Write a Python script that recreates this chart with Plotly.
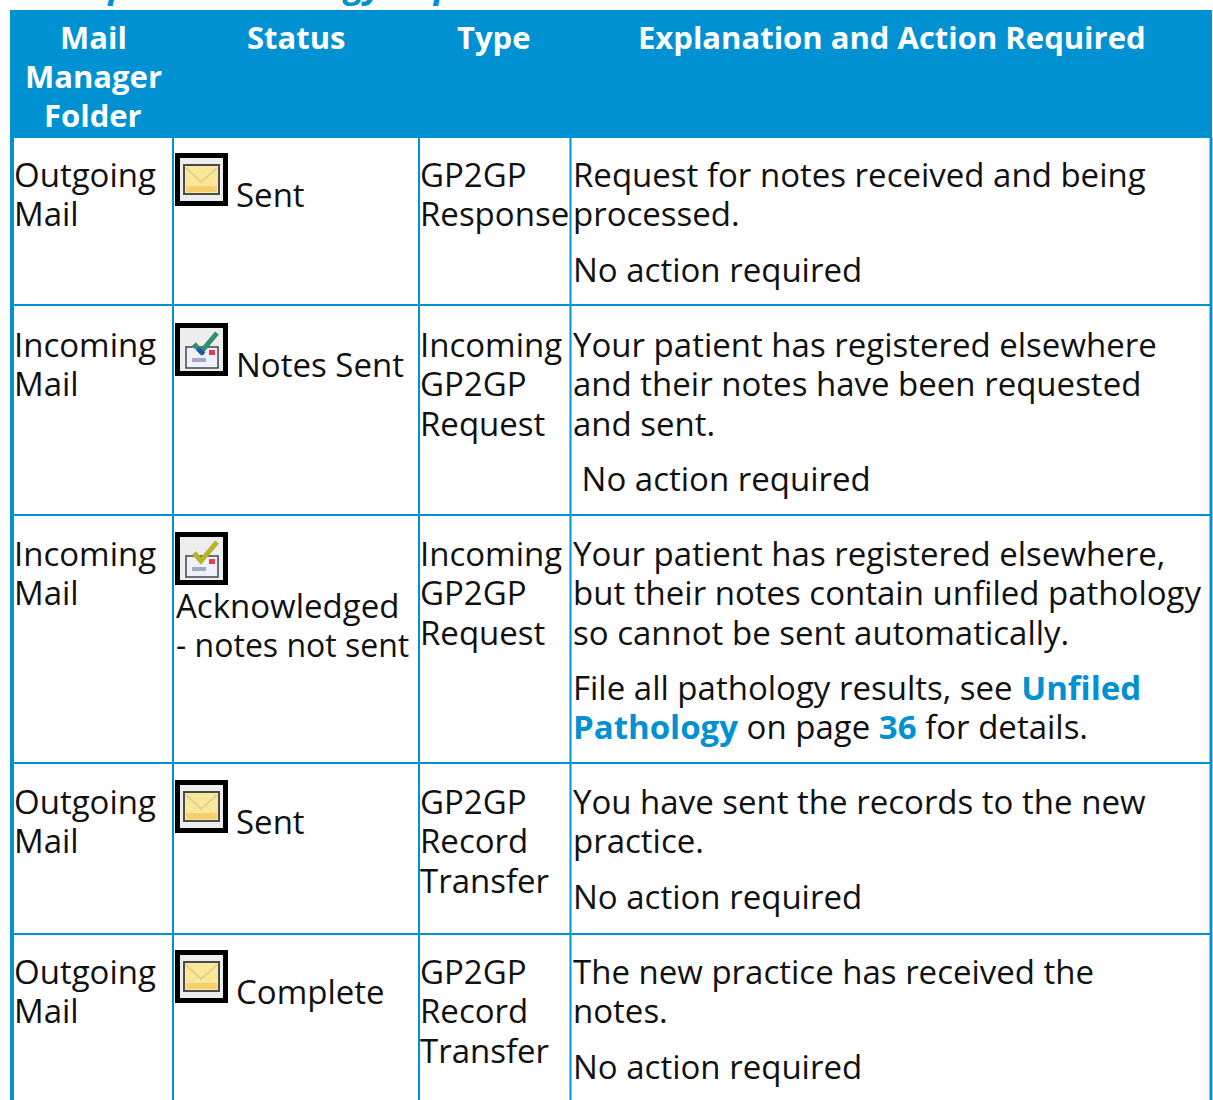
import plotly.graph_objects as go

# ---- content -------------------------------------------------------------
headers = [["Mail", "Manager", "Folder"], ["Status"], ["Type"], ["Explanation and Action Required"]]
folders = [["Outgoing", "Mail"], ["Incoming", "Mail"], ["Incoming", "Mail"], ["Outgoing", "Mail"], ["Outgoing", "Mail"]]
statuses = ["Sent", "Notes Sent", "Acknowledged|- notes not sent", "Sent", "Complete"]
icons = ["mail", "sent", "ack", "mail", "mail"]
types = [["GP2GP", "Response"], ["Incoming", "GP2GP", "Request"], ["Incoming", "GP2GP", "Request"],
         ["GP2GP", "Record", "Transfer"], ["GP2GP", "Record", "Transfer"]]
explanations = [
    ["Request for notes received and being", "processed."],
    ["Your patient has registered elsewhere", "and their notes have been requested", "and sent."],
    ["Your patient has registered elsewhere,", "but their notes contain unfiled pathology", "so cannot be sent automatically."],
    ["You have sent the records to the new", "practice."],
    ["The new practice has received the", "notes."],
]
BLUE = "#0091D2"
link = lambda s: f"<span style='color:{BLUE}'><b>{s}</b></span>"
actions = [
    ["No action required"],
    ["\u00a0No action required"],
    ["File all pathology results, see " + link("Unfiled"),
     link("Pathology") + " on page " + link("36") + " for details."],
    ["No action required"],
    ["No action required"],
]
page_title_fragment = "Example in Pathology Reports"

# ---- layout --------------------------------------------------------------
FONT = "Open Sans"
SIZE = 33
col_x = [12, 173, 419, 570.5, 1211]
col_w = [4, 2, 2, 2, 3]
row_y = [305, 515, 763, 934]
row_first = [174, 344, 553, 801, 971]
action_y = [269, 478, 687, 896, 1066]
LINE = 39.5

fig = go.Figure()
shapes, ann = [], []

def text(x, y, s, size=SIZE, color="#111111", anchor="left", shift=0):
    ann.append(dict(x=x, y=y, text=s, showarrow=False, xanchor=anchor, yanchor="middle", yshift=shift,
                    font=dict(family=FONT, size=size, color=color), xref="x", yref="y"))

def rect(x0, y0, x1, y1, fill, line=None, w=0):
    shapes.append(dict(type="rect", x0=x0, y0=y0, x1=x1, y1=y1, fillcolor=fill,
                       line=dict(color=line or fill, width=w), xref="x", yref="y", layer="above"))

def path(d, fill=None, line=None, w=1):
    shapes.append(dict(type="path", path=d, fillcolor=fill or "rgba(0,0,0,0)",
                       line=dict(color=line or "rgba(0,0,0,0)", width=w), xref="x", yref="y", layer="above"))

def icon(kind, x, y):
    rect(x, y, x + 53, y + 53, "#000000")
    rect(x + 5, y + 5, x + 48, y + 48, "#EDEDED")
    if kind == "mail":
        rect(x + 9, y + 12, x + 44, y + 41, "#F9E79A", "#4A4A4A", 2)
        rect(x + 11, y + 33, x + 42, y + 39, "#F4CE6A")
        path(f"M {x+11} {y+15} L {x+26} {y+29} L {x+42} {y+15}", line="#E6CF8E", w=2)
        path(f"M {x+11} {y+38} L {x+21} {y+27} M {x+42} {y+38} L {x+32} {y+27}", line="#F2DC9C", w=1)
    else:
        rect(x + 11, y + 24, x + 43, y + 45, "#EEF1FA", "#3E4650", 1.5)
        rect(x + 17, y + 35, x + 31, y + 39, "#A3A8C0")
        rect(x + 34, y + 27, x + 40, y + 32, "#E5404A")
        c = "#2F8F6E" if kind == "sent" else "#B9B32A"
        path(f"M {x+19} {y+21} L {x+26} {y+29} L {x+42} {y+10}", line=c, w=5)
        if kind == "sent":
            path(f"M {x+23} {y+26} L {x+29} {y+31}", line="#1F4FB0", w=4)

# page title remnant, cropped by the top edge
text(14, 0, f"<b><i>{page_title_fragment}</i></b>", size=36, color=BLUE, shift=17)

# header band
rect(10, 10, 1212, 138, BLUE)
header_x = [93, 296, 494, 892]
for hx, lines in zip(header_x, headers):
    for i, s in enumerate(lines):
        text(hx, 37 + i * 39, f"<b>{s}</b>", size=31, color="#FFFFFF", anchor="center")

# grid lines
for x, w in zip(col_x, col_w):
    shapes.append(dict(type="line", x0=x, x1=x, y0=138, y1=1100, xref="x", yref="y",
                       line=dict(color=BLUE, width=w), layer="above"))
for y in row_y:
    shapes.append(dict(type="line", x0=12, x1=1211, y0=y, y1=y, xref="x", yref="y",
                       line=dict(color=BLUE, width=2), layer="above"))

# rows
for r in range(len(folders)):
    y0 = row_first[r]
    for i, s in enumerate(folders[r]):
        text(12, y0 + i * LINE, s)
    icon(icons[r], 175, y0 - 21)
    parts = statuses[r].split("|")
    if len(parts) == 1:
        text(234, y0 + 20, parts[0])
    else:
        text(174, y0 + 52, parts[0])
        text(174, y0 + 91, parts[1], size=32)
    for i, s in enumerate(types[r]):
        text(418, y0 + i * LINE, s)
    for i, s in enumerate(explanations[r]):
        text(571, y0 + i * LINE, s)
    for i, s in enumerate(actions[r]):
        text(571, action_y[r] + i * LINE, s)

fig.update_layout(
    width=1213, height=1100, margin=dict(l=0, r=0, t=0, b=0),
    paper_bgcolor="#FFFFFF", plot_bgcolor="#FFFFFF", showlegend=False,
    xaxis=dict(range=[0, 1213], visible=False, fixedrange=True),
    yaxis=dict(range=[1100, 0], visible=False, fixedrange=True),
    shapes=shapes, annotations=ann,
)
fig.add_trace(go.Scatter(x=[None], y=[None], hoverinfo="skip"))
fig.write_html("out.html", config={"displayModeBar": False},
               post_script="document.body.style.margin='0';document.body.style.overflow='hidden';")
